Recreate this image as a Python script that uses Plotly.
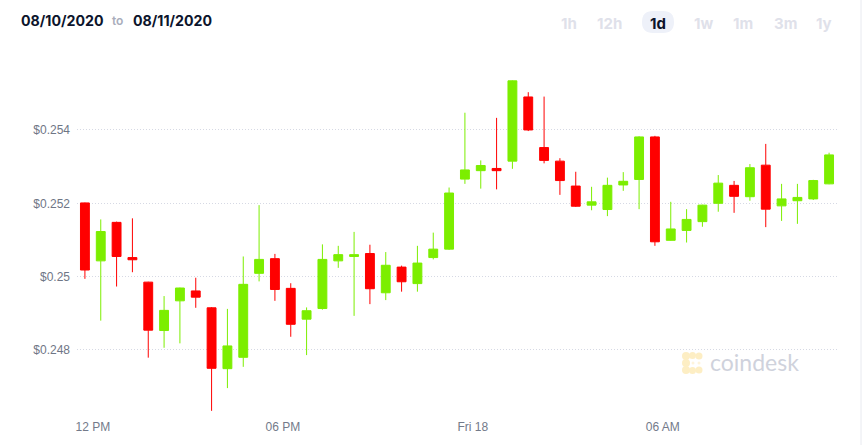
import plotly.graph_objects as go
import pandas as pd

# ---- data ----
times = pd.date_range("2020-09-17 11:45", periods=48, freq="30min")

opens = [0.25201, 0.25043, 0.25148, 0.25052, 0.24985, 0.24853, 0.24934, 0.24961,
         0.24915, 0.24749, 0.24780, 0.25009, 0.25049, 0.24968, 0.24884, 0.24913,
         0.25043, 0.25055, 0.25063, 0.24956, 0.25026, 0.24981, 0.25052, 0.25075,
         0.25266, 0.25289, 0.25295, 0.25315, 0.25490, 0.25352, 0.25315, 0.25247,
         0.25195, 0.25183, 0.25250, 0.25265, 0.25381, 0.25099, 0.25126, 0.25150,
         0.25200, 0.25249, 0.25218, 0.25304, 0.25193, 0.25207, 0.25212, 0.25253]
highs = [0.25202, 0.25156, 0.25150, 0.25159, 0.24986, 0.24947, 0.24970, 0.24997,
         0.24917, 0.24912, 0.25055, 0.25195, 0.25062, 0.24982, 0.24916, 0.25088,
         0.25084, 0.25122, 0.25087, 0.25067, 0.25030, 0.25084, 0.25120, 0.25243,
         0.25447, 0.25317, 0.25433, 0.25535, 0.25503, 0.25491, 0.25323, 0.25286,
         0.25245, 0.25270, 0.25285, 0.25383, 0.25384, 0.25204, 0.25184, 0.25196,
         0.25277, 0.25261, 0.25307, 0.25362, 0.25253, 0.25253, 0.25264, 0.25338]
lows = [0.24994, 0.24880, 0.24973, 0.25012, 0.24779, 0.24806, 0.24818, 0.24915,
        0.24634, 0.24696, 0.24754, 0.24987, 0.24934, 0.24836, 0.24786, 0.24910,
        0.25024, 0.24893, 0.24925, 0.24936, 0.24959, 0.24959, 0.25047, 0.25073,
        0.25253, 0.25240, 0.25238, 0.25294, 0.25397, 0.25309, 0.25223, 0.25190,
        0.25181, 0.25165, 0.25234, 0.25184, 0.25084, 0.25098, 0.25093, 0.25136,
        0.25177, 0.25174, 0.25207, 0.25135, 0.25152, 0.25144, 0.25209, 0.25252]
closes = [0.25018, 0.25123, 0.25055, 0.25046, 0.24854, 0.24908, 0.24969, 0.24944,
          0.24750, 0.24811, 0.24979, 0.25047, 0.24965, 0.24870, 0.24907, 0.25047,
          0.25060, 0.25060, 0.24967, 0.25031, 0.24986, 0.25037, 0.25075, 0.25228,
          0.25291, 0.25303, 0.25289, 0.25534, 0.25400, 0.25317, 0.25262, 0.25192,
          0.25204, 0.25249, 0.25260, 0.25381, 0.25095, 0.25130, 0.25156, 0.25195,
          0.25255, 0.25219, 0.25297, 0.25184, 0.25212, 0.25216, 0.25262, 0.25332]

x_tick_vals = ["2020-09-17 12:00", "2020-09-17 18:00", "2020-09-18 00:00", "2020-09-18 06:00"]
x_tick_text = ["12 PM", "06 PM", "Fri 18", "06 AM"]
y_tick_vals = [0.248, 0.250, 0.252, 0.254]
y_tick_text = ["$0.248", "$0.25", "$0.252", "$0.254"]

date_from = "08/10/2020"
date_to = "08/11/2020"
ranges = ["1h", "12h", "1d", "1w", "1m", "3m", "1y"]
range_x = [569, 609, 658, 703, 743, 785, 824]
active_range = "1d"

# ---- layout geometry (pixels) ----
W, H = 862, 445
L, R, T, B = 77, 837, 60, 413
GREEN = "#7CEE00"
RED = "#FF0000"


def px(x):
    return (x - L) / (R - L)


def py(y):
    return (B - y) / (B - T)


fig = go.Figure(go.Candlestick(
    x=times, open=opens, high=highs, low=lows, close=closes,
    increasing=dict(line=dict(color=GREEN, width=1), fillcolor=GREEN),
    decreasing=dict(line=dict(color=RED, width=1), fillcolor=RED),
    whiskerwidth=0, hoverinfo="skip",
))

fig.update_layout(
    width=W, height=H,
    margin=dict(l=L, r=W - R, t=T, b=H - B),
    paper_bgcolor="white", plot_bgcolor="white",
    showlegend=False, boxgap=0.2,
    font=dict(family="Arial, Liberation Sans, sans-serif", size=12, color="#6f7686"),
)
fig.update_xaxes(
    type="date", range=["2020-09-17 11:30", "2020-09-18 11:30"],
    tickvals=x_tick_vals, ticktext=x_tick_text,
    showgrid=False, zeroline=False, showline=False, ticks="",
    rangeslider=dict(visible=False), ticklabelstandoff=5,
    tickfont=dict(size=12, color="#737a8a"),
)
fig.update_yaxes(
    range=[0.246281, 0.255908],
    tickvals=y_tick_vals, ticktext=y_tick_text,
    showgrid=True, gridcolor="#d6d9e4", griddash="1px,2px", gridwidth=1,
    zeroline=False, showline=False, ticks="", ticklabelstandoff=6,
    tickfont=dict(size=12, color="#6f7686"),
)


def note(x, y, text, font, xanchor="center"):
    fig.add_annotation(x=px(x), y=py(y), xref="paper", yref="paper",
                       xanchor=xanchor, yanchor="middle", text=text,
                       showarrow=False, font=font)


# header dates
note(19, 20, date_from, dict(family="Inter", size=14.2, weight=700, color="#0c142c"), "left")
note(110, 21, "to", dict(family="Inter", size=12, weight=600, color="#a9adbb"), "left")
note(131, 20, date_to, dict(family="Inter", size=14.2, weight=700, color="#0c142c"), "left")

# range buttons
ax = range_x[ranges.index(active_range)]
x0, x1, y0, y1, r = px(ax - 16), px(ax + 16), py(11), py(33), 11
rx = r / (R - L)
ry = r / (B - T)
path = (f"M {x0 + rx} {y0} L {x1 - rx} {y0} Q {x1} {y0} {x1} {y0 - ry} "
        f"L {x1} {y1 + ry} Q {x1} {y1} {x1 - rx} {y1} L {x0 + rx} {y1} "
        f"Q {x0} {y1} {x0} {y1 + ry} L {x0} {y0 - ry} Q {x0} {y0} {x0 + rx} {y0} Z")
fig.add_shape(type="path", path=path, xref="paper", yref="paper",
              fillcolor="#eef1f9", line=dict(width=0), layer="below")
for lab, bx in zip(ranges, range_x):
    note(bx, 23, lab, dict(family="Inter", size=15, weight=700,
                           color="#0c142c" if lab == active_range else "#dfe1ea"))

# right border of container
fig.add_shape(type="line", xref="paper", yref="paper", x0=px(861), x1=px(861), y0=py(0), y1=py(445),
              line=dict(color="#e8eaf0", width=1))

# coindesk watermark (icon made of soft dots)
for (cx, cy, rr, col) in [(686, 356, 4, "#fdeec4"), (692.5, 355.5, 3.5, "#fdeec4"), (699, 356, 3.5, "#fdeec4"),
                          (686, 363, 4, "#fdeec4"), (686, 370, 4, "#fdeec4"), (692.5, 370.5, 3.5, "#fdeec4"),
                          (699, 370, 3.5, "#fdeec4"), (693, 363, 1.5, "#fef4db"), (699, 363, 1.5, "#fef4db")]:
    fig.add_shape(type="circle", xref="paper", yref="paper",
                  x0=px(cx - rr), x1=px(cx + rr), y0=py(cy + rr), y1=py(cy - rr),
                  fillcolor=col, line=dict(width=0), layer="below")
note(708, 362, "coindesk", dict(family="Lato", size=23, color="#cfd2dc"), "left")

fig.write_html("out.html")
